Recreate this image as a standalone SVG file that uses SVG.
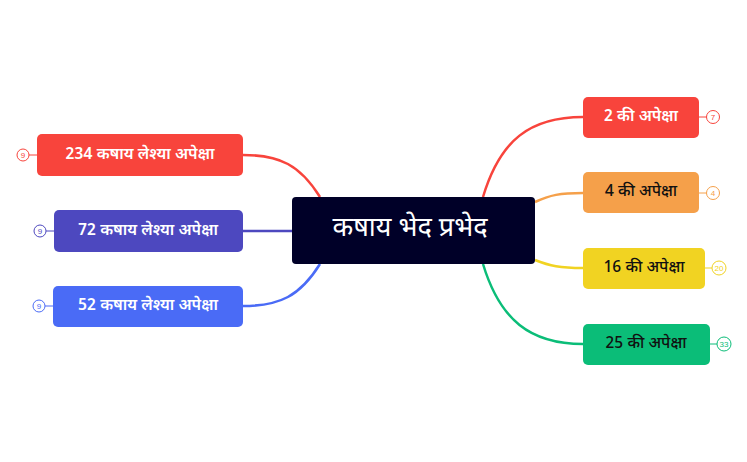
<svg xmlns="http://www.w3.org/2000/svg" width="747" height="462" viewBox="0 0 747 462">
<style>
text{font-family:"Noto Sans Devanagari","Noto Sans","Lato",sans-serif;text-anchor:middle;dominant-baseline:central}
.l{font-size:16px;font-weight:600;fill:#fff}
.d{font-size:16px;font-weight:500;fill:#111}
.c{fill:none;stroke-width:2.5}
.b{fill:#fff;stroke-width:1}
.bt{font-size:8px;font-family:"Liberation Sans",sans-serif}
</style>
<rect width="747" height="462" fill="#fff"/>
<g id="connectors">
<path class="c" stroke="#f8443c" d="M320,197 C300,165 280,155 243,155"/>
<path class="c" stroke="#4d48bf" d="M292,231 L243,231"/>
<path class="c" stroke="#4a6bf6" d="M320,264 C300,296 280,306 243,306"/>
<path class="c" stroke="#f8443c" d="M483,197 C500,140 530,117 583,117"/>
<path class="c" stroke="#f5a04a" d="M535,202 C550,195 560,193 583,193"/>
<path class="c" stroke="#f1d322" d="M535,260 C550,266 560,268 583,268"/>
<path class="c" stroke="#0bbd78" d="M483,264 C500,320 530,344 583,344"/>
<path stroke="#f8443c" d="M29,155H37M699,117H707"/>
<path stroke="#4d48bf" d="M46,231H54"/>
<path stroke="#4a6bf6" d="M45,306H53"/>
<path stroke="#f5a04a" d="M699,193H707"/>
<path stroke="#f1d322" d="M705,268H712"/>
<path stroke="#0bbd78" d="M710,344H717"/>
</g>
<g id="center"><rect x="292" y="197" width="243" height="67" rx="4" fill="#000028"/><text x="410" y="229" font-size="27" fill="#fff">कषाय भेद प्रभेद</text></g>
<g id="n234"><rect x="37" y="134" width="206" height="42" rx="5" fill="#f8443c"/><text class="l" x="140" y="155">234 कषाय लेश्या अपेक्षा</text><circle class="b" cx="23" cy="155" r="6" stroke="#f8443c"/><text class="bt" x="23" y="155" fill="#f8443c">9</text></g>
<g id="n72"><rect x="54" y="210" width="189" height="42" rx="5" fill="#4d48bf"/><text class="l" x="148" y="231">72 कषाय लेश्या अपेक्षा</text><circle class="b" cx="40" cy="231" r="6" stroke="#4d48bf"/><text class="bt" x="40" y="231" fill="#4d48bf">9</text></g>
<g id="n52"><rect x="53" y="286" width="190" height="41" rx="5" fill="#4a6bf6"/><text class="l" x="148" y="306">52 कषाय लेश्या अपेक्षा</text><circle class="b" cx="39" cy="306" r="6" stroke="#4a6bf6"/><text class="bt" x="39" y="306" fill="#4a6bf6">9</text></g>
<g id="n2"><rect x="583" y="97" width="116" height="41" rx="5" fill="#f8443c"/><text class="l" x="641" y="117">2 की अपेक्षा</text><circle class="b" cx="713" cy="117" r="6.5" stroke="#f8443c"/><text class="bt" x="713" y="117" fill="#f8443c">7</text></g>
<g id="n4"><rect x="583" y="172" width="116" height="41" rx="5" fill="#f5a04a"/><text class="d" x="641" y="192">4 की अपेक्षा</text><circle class="b" cx="713" cy="193" r="6.5" stroke="#f5a04a"/><text class="bt" x="713" y="193" fill="#f5a04a">4</text></g>
<g id="n16"><rect x="583" y="248" width="122" height="41" rx="5" fill="#f1d322"/><text class="d" x="644" y="268">16 की अपेक्षा</text><circle class="b" cx="719" cy="268" r="7" stroke="#f1d322"/><text class="bt" x="719" y="268" fill="#f1d322">20</text></g>
<g id="n25"><rect x="583" y="324" width="127" height="41" rx="5" fill="#0bbd78"/><text class="d" x="646" y="344">25 की अपेक्षा</text><circle class="b" cx="724" cy="344" r="7" stroke="#0bbd78"/><text class="bt" x="724" y="344" fill="#0bbd78">33</text></g>
</svg>
